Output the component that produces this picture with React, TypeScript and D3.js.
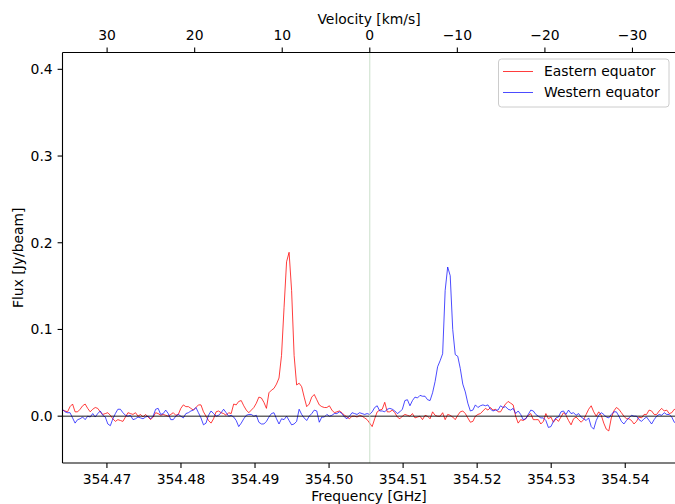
import React from "react";
import * as d3 from "d3";

// HCN(4-3) rest frequency and speed of light, for the velocity axis on top
const REST_FREQ = 354.5055; // GHz
const C_KMS = 299792.458;

// spectral channels
const FIRST_CHANNEL = 354.464; // GHz
const CHANNEL_WIDTH = 0.00034; // GHz

// flux per channel, mJy/beam
const eastern = [
  7, 6, 5, 11, 14, 5, 5, 8, 12, 14, 9, 5, 8, 10, 9, 5, 2, 3, 4, 1,
  -3, -6, -4, -5, -6, -1, 4, 3, 2, 4, 0, 2, -1, 2, -1, -4, -1, 4, 3, 1,
  2, 1, 0, 2, 4, 1, 2, 9, 13, 11, 11, 9, 7, 10, 13, 13, 5, 0, -5, -8,
  -3, 5, 6, 4, 3, 1, 4, 3, 14, 13, 17, 18, 12, 7, 4, 7, 10, 15, 22, 21,
  16, 9, 27, 30, 32, 37, 44, 70, 125, 178, 189, 145, 70, 36, 38, 34, 22, 11, 14, 22,
  25, 19, 13, 11, 10, 10, 12, 7, 4, 5, 6, 4, 1, -1, -3, 0, 0, -1, 1, 0,
  -2, -4, -8, -12, -3, 5, 7, 8, 16, 5, 5, 7, 4, -1, -3, 0, 2, 1, 0, 3,
  -2, -1, 0, -4, 1, 0, -3, 5, 1, 0, 0, 4, -4, 2, 1, -1, -4, 1, 5, 6,
  3, -2, -7, -6, 0, 2, 3, 6, 9, 7, 10, 7, 8, 5, 5, 10, 14, 17, 15, 13,
  0, -8, -4, -5, -3, 1, 3, -4, -4, -4, -9, -6, 3, -3, -1, -7, -3, -6, -1, 4,
  1, -5, -10, -3, -1, -4, -7, -4, 2, 8, 12, 5, 0, 5, 1, -8, -15, -17, -2, 6,
  10, 8, 4, 0, -3, -3, -5, -9, -6, -1, -2, 2, 2, 7, 6, 2, 2, 6, 9, 6,
  7, 3, 4, 8, 6,
];

const western = [
  8, 5, 4, 4, -2, -8, -4, -3, -1, -4, 0, -1, 3, -1, 3, 6, 1, -1, -9, -11,
  -3, 3, 8, 8, 4, 1, 0, 1, -4, -3, -1, -2, -3, -1, 0, -3, 0, 8, 9, 2,
  3, 7, 3, -4, -4, 0, 2, 0, -2, 3, 4, 6, 7, 10, 4, -2, -10, -8, 1, 6,
  3, 0, 1, 4, 8, 4, 0, 1, -1, -5, -12, -8, -3, 1, 2, 2, 0, 1, -7, -9,
  -9, -6, -1, 3, 4, -3, -9, -3, -4, 0, -5, -10, -9, -6, 8, 2, -2, -5, 0, 3,
  7, 6, -7, -1, -1, 2, 0, 1, 3, 3, 5, 3, -1, -3, 0, 4, 3, 2, 4, 3,
  2, 3, 2, 5, 10, 12, 6, 6, 5, 8, 9, 8, 6, 3, 5, 8, 18, 19, 12, 18,
  22, 21, 24, 23, 23, 19, 18, 27, 40, 57, 64, 72, 145, 172, 162, 100, 71, 69, 55, 37,
  28, 15, 6, 7, 13, 10, 12, 13, 12, 13, 8, 6, 7, 7, 12, 10, 11, 8, 7, 9,
  3, 6, 2, -4, -3, 2, 7, 6, 2, 0, -2, -2, -5, -13, -12, -6, -2, -1, 5, 6,
  2, 7, 3, 4, 1, 3, -1, -3, -5, -2, -12, -15, -5, 1, 4, 2, -1, -2, 2, 5,
  5, 0, -6, -9, -5, -2, 1, 0, 0, -4, -6, -3, -1, -5, -9, -4, 0, 2, 1, 4,
  2, 2, -1, -7, -8,
];

const seriesNames = ["Eastern equator", "Western equator"];
const seriesColors = ["#ff0000", "#0000ff"];

const freqTicks = [354.47, 354.48, 354.49, 354.5, 354.51, 354.52, 354.53, 354.54];
const velTicks = [30, 20, 10, 0, -10, -20, -30];
const fluxTicks = [0, 0.1, 0.2, 0.3, 0.4];

const W = 675;
const H = 504;
const plot = { left: 62.5, top: 52.5, right: 675.6, bottom: 463 };
const FONT = "'DejaVu Sans', sans-serif";
const TICK = 4.9;

const velToFreq = (v: number) => REST_FREQ * (1 - v / C_KMS);
const fmtVel = (v: number) => (v < 0 ? "\u2212" + Math.abs(v) : String(v));

export default function App() {
  const x = d3.scaleLinear().domain([354.464, 354.5468]).range([plot.left, plot.right]);
  const y = d3.scaleLinear().domain([-0.054, 0.4194]).range([plot.bottom, plot.top]);

  const toPoints = (vals: number[]) =>
    vals.map((v, i) => [FIRST_CHANNEL + i * CHANNEL_WIDTH, v / 1000] as [number, number]);
  const line = d3
    .line<[number, number]>()
    .x((d) => x(d[0]))
    .y((d) => y(d[1]));

  const series = [eastern, western];
  const x0 = x(REST_FREQ);

  return (
    <svg
      width={W}
      height={H}
      style={{ position: "absolute", left: 0, top: 0, background: "#fff" }}
      fontFamily={FONT}
    >
      <defs>
        <clipPath id="plotclip">
          <rect x={plot.left} y={plot.top} width={plot.right - plot.left} height={plot.bottom - plot.top} />
        </clipPath>
      </defs>

      <g clipPath="url(#plotclip)">
        {series.map((s, k) => (
          <path
            key={k}
            d={line(toPoints(s)) ?? ""}
            fill="none"
            stroke={seriesColors[k]}
            strokeWidth={k === 0 ? 0.9 : 1}
            strokeOpacity={k === 0 ? 0.85 : 0.7}
            strokeLinejoin="round"
          />
        ))}
        {/* zero line and systemic velocity */}
        <line x1={plot.left} x2={plot.right} y1={y(0)} y2={y(0)} stroke="#000" strokeOpacity={0.6} strokeWidth={1.5} />
        <line x1={x0} x2={x0} y1={plot.top} y2={plot.bottom} stroke="#bcd6bc" strokeWidth={0.8} />
      </g>

      {/* spines */}
      <g stroke="#000" strokeWidth={1.1} fill="none">
        <line x1={plot.left} x2={plot.left} y1={plot.top} y2={plot.bottom} />
        <line x1={plot.left} x2={plot.right} y1={plot.bottom} y2={plot.bottom} />
        <line x1={plot.left} x2={plot.right} y1={plot.top} y2={plot.top} />
      </g>

      {/* bottom axis: frequency */}
      {freqTicks.map((f) => (
        <g key={f} transform={`translate(${x(f)},${plot.bottom})`}>
          <line y2={TICK} stroke="#000" strokeWidth={1.1} />
          <text y={TICK + 4.9 + 11} textAnchor="middle" fontSize={13.9} fill="#000">
            {f.toFixed(2)}
          </text>
        </g>
      ))}
      <text x={(plot.left + plot.right) / 2} y={501} textAnchor="middle" fontSize={13.9}>
        Frequency [GHz]
      </text>

      {/* top axis: velocity */}
      {velTicks.map((v) => (
        <g key={v} transform={`translate(${x(velToFreq(v))},${plot.top})`}>
          <line y2={-TICK} stroke="#000" strokeWidth={1.1} />
          <text y={-TICK - 4.9 - 3} textAnchor="middle" fontSize={13.9} fill="#000">
            {fmtVel(v)}
          </text>
        </g>
      ))}
      <text x={(plot.left + plot.right) / 2} y={24} textAnchor="middle" fontSize={13.9}>
        Velocity [km/s]
      </text>

      {/* left axis: flux */}
      {fluxTicks.map((t) => (
        <g key={t} transform={`translate(${plot.left},${y(t)})`}>
          <line x2={-TICK} stroke="#000" strokeWidth={1.1} />
          <text x={-TICK - 4.9} dy="0.35em" textAnchor="end" fontSize={13.9} fill="#000">
            {t.toFixed(1)}
          </text>
        </g>
      ))}
      <text
        transform={`translate(${23},${(plot.top + plot.bottom) / 2}) rotate(-90)`}
        textAnchor="middle"
        fontSize={13.9}
      >
        Flux [Jy/beam]
      </text>

      {/* legend */}
      <g transform="translate(498.5,59)">
        <rect width={170.5} height={48} rx={3} fill="#fff" fillOpacity={0.8} stroke="#ccc" strokeWidth={1} />
        {seriesNames.map((name, k) => (
          <g key={name} transform={`translate(0,${12.5 + k * 21})`}>
            <line
              x1={4.5}
              x2={34.5}
              stroke={seriesColors[k]}
              strokeWidth={k === 0 ? 0.9 : 1}
              strokeOpacity={k === 0 ? 0.85 : 0.7}
            />
            <text x={45.5} dy="0.35em" fontSize={13.9} fill="#000">
              {name}
            </text>
          </g>
        ))}
      </g>
    </svg>
  );
}
